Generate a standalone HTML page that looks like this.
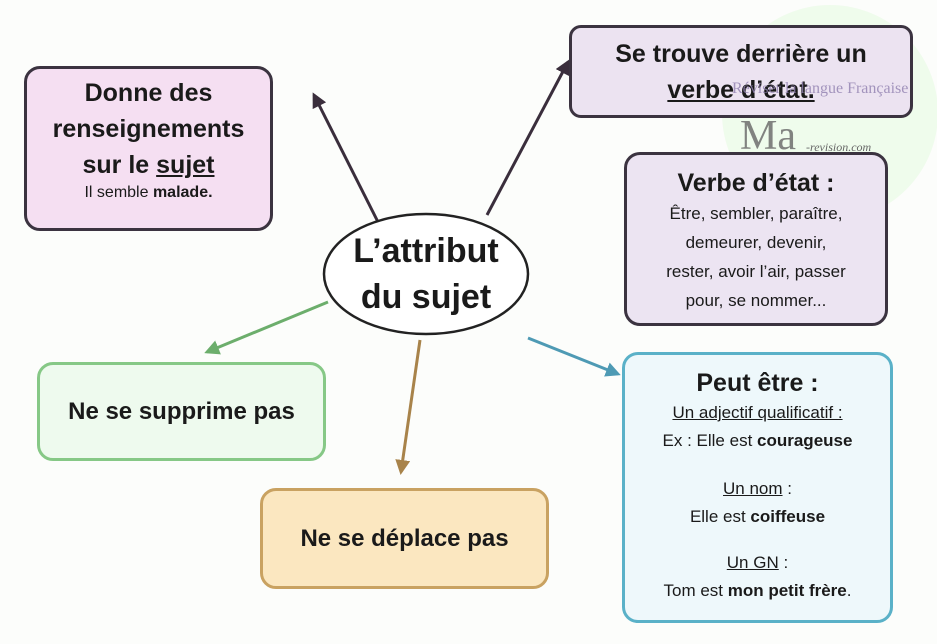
<!DOCTYPE html>
<html><head><meta charset="utf-8"><style>
body{margin:0;width:937px;height:644px;background:#fcfdfb;position:relative;overflow:hidden;font-family:"Liberation Sans","DejaVu Sans",sans-serif;color:#1a1a1a}
.b{position:absolute;box-sizing:border-box;border:3px solid #3b3340;border-radius:16px;text-align:center;font-weight:bold}
.s{font-weight:normal;font-size:17px;line-height:29px}
</style></head><body>
<svg width="937" height="644" style="position:absolute;left:0;top:0">
<defs>
<marker id="a" markerWidth="5" markerHeight="5" refX="4" refY="2.5" orient="auto"><path d="M0,0 L5,2.5 L0,5z" fill="context-stroke"/></marker>
</defs>
<circle cx="830" cy="113" r="108" fill="#d8f8d0" opacity="0.35"/>
<line x1="378" y1="222" x2="314" y2="95" stroke="#3a2e3c" stroke-width="3" marker-end="url(#a)"/>
<line x1="487" y1="215" x2="568" y2="62" stroke="#3a2e3c" stroke-width="3" marker-end="url(#a)"/>
<line x1="328" y1="302" x2="207" y2="352" stroke="#6cae6c" stroke-width="3" marker-end="url(#a)"/>
<line x1="420" y1="340" x2="401" y2="472" stroke="#a8834a" stroke-width="3" marker-end="url(#a)"/>
<line x1="528" y1="338" x2="618" y2="374" stroke="#4e9ab4" stroke-width="3" marker-end="url(#a)"/>
<ellipse cx="426" cy="274" rx="102" ry="60" fill="#fff" stroke="#222" stroke-width="2.5"/>
</svg>
<div style="position:absolute;left:326px;top:228px;width:200px;text-align:center;font-weight:bold;font-size:34px;line-height:46px">L’attribut<br>du sujet</div>
<div class="b" style="left:24px;top:66px;width:249px;height:165px;background:#f5dff2;font-size:25px;line-height:36px;padding-top:6px">Donne des<br>renseignements<br>sur le <u>sujet</u><br><span style="font-size:16px;line-height:20px;display:block"><span style="font-weight:normal">Il semble</span> malade.</span></div>
<div class="b" style="left:569px;top:25px;width:344px;height:93px;background:#ece3f1;font-size:25px;line-height:36px;padding-top:8px;border-radius:12px">Se trouve derrière un<br><u>verbe d’état.</u></div>
<div class="b" style="left:624px;top:152px;width:264px;height:174px;background:#ece4f2;padding-top:12px"><div style="font-size:25px;line-height:32px">Verbe d’état :</div><div class="s">Être, sembler, paraître,<br>demeurer, devenir,<br>rester, avoir l’air, passer<br>pour, se nommer...</div></div>
<div class="b" style="left:37px;top:362px;width:289px;height:99px;background:#eefaee;border-color:#86c886;font-size:24px;line-height:93px">Ne se supprime pas</div>
<div class="b" style="left:260px;top:488px;width:289px;height:101px;background:#fbe7c0;border-color:#c9a261;font-size:24px;line-height:95px">Ne se déplace pas</div>
<div class="b" style="left:622px;top:352px;width:271px;height:271px;background:#eef8fb;border-color:#5ab1c8;padding-top:12px">
<div style="font-size:25px;line-height:32px">Peut être :</div>
<div class="s" style="line-height:28px"><u>Un adjectif qualificatif :</u><br>Ex : Elle est <b>courageuse</b></div>
<div class="s" style="margin-top:20px;line-height:28px"><u>Un nom</u> :<br>Elle est <b>coiffeuse</b></div>
<div class="s" style="margin-top:18px;line-height:28px"><u>Un GN</u> :<br>Tom est <b>mon petit frère</b>.</div>
</div>
<div style="position:absolute;left:740px;top:112px;font-family:'Liberation Serif',serif;font-size:42px;color:#666;opacity:.8">Ma</div>
<div style="position:absolute;left:806px;top:140px;font-family:'Liberation Serif',serif;font-style:italic;font-size:12px;color:#666">-revision.com</div>
<div style="position:absolute;left:732px;top:80px;font-family:'Liberation Serif',serif;font-size:16px;color:#9080b0;opacity:.8">Réviser la langue Française</div>
</body></html>
